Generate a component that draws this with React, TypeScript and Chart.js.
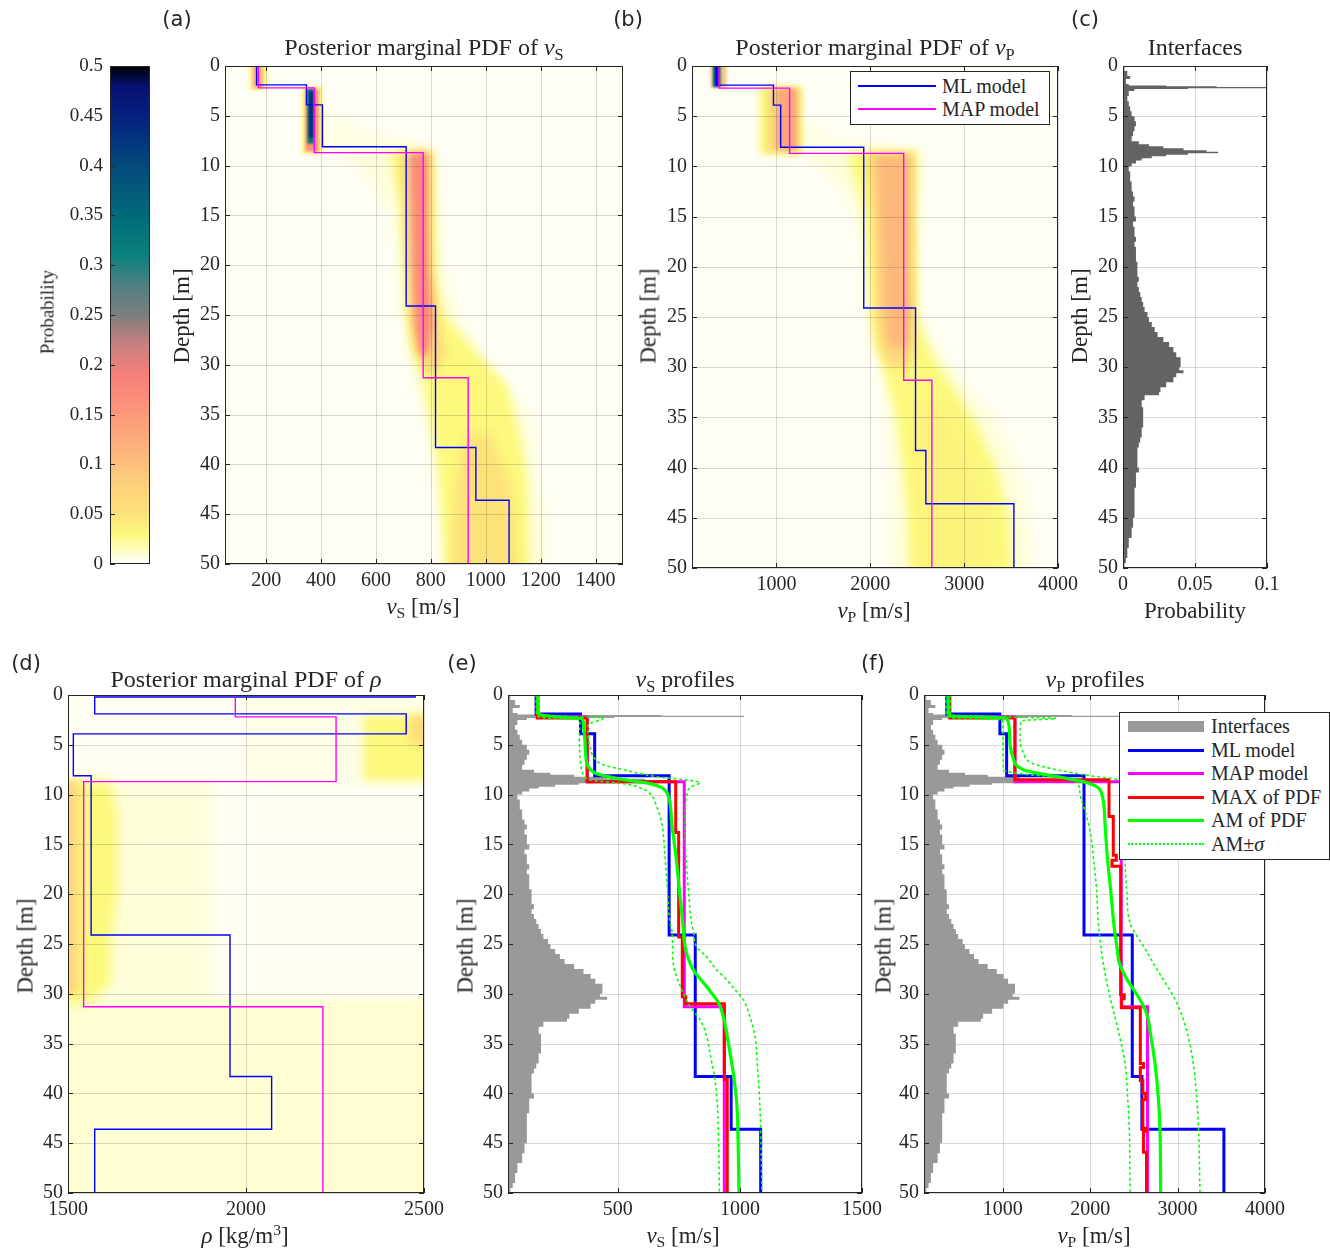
import React, { useEffect, useRef } from 'react';
import { Chart, registerables } from 'chart.js';

// ---------- plugin that blurs heat-map patches (registered before filler so it wraps the fill) ----------
const heatBlur = {
  id: 'heatBlur',
  beforeDatasetDraw(chart: any, args: any) {
    const ds = chart.data.datasets[args.index];
    if (ds && ds.blur) { chart.ctx.save(); chart.ctx.filter = `blur(${ds.blur}px)`; }
  },
  afterDatasetDraw(chart: any, args: any) {
    const ds = chart.data.datasets[args.index];
    if (ds && ds.blur) chart.ctx.restore();
  },
};
Chart.register(heatBlur as any);
Chart.register(...registerables);

// ---------- colormap ----------
const cmapStops = [0, 0.01, 0.03, 0.05, 0.08, 0.1, 0.13, 0.16, 0.19, 0.22, 0.25, 0.28, 0.31, 0.35, 0.4, 0.45, 0.48, 0.5];
const cmapColors = ['#ffffff', '#fefed2', '#fcf97c', '#fde27a', '#fdd07b', '#fcc07c', '#fca87c', '#fc927b', '#f77f79', '#c98080', '#7e7e7e', '#4f8080', '#0a807c', '#006a79', '#034a7a', '#05217f', '#061070', '#000000'];
const cbTicks = [0, 0.05, 0.1, 0.15, 0.2, 0.25, 0.3, 0.35, 0.4, 0.45, 0.5];

// ---------- axis ticks ----------
const depthTicks = [0, 5, 10, 15, 20, 25, 30, 35, 40, 45, 50];
const vsTicksA = [200, 400, 600, 800, 1000, 1200, 1400];
const vpTicks = [1000, 2000, 3000, 4000];
const probTicks = [0, 0.05, 0.1];
const rhoTicks = [1500, 2000, 2500];
const vsTicksE = [500, 1000, 1500];

// ---------- layered models (layer tops in m) ----------
const mlTops = [0, 0.2, 1.9, 3.9, 8.1, 24.1, 38.3, 43.6];
const mlVs = [165, 165, 347, 405, 710, 817, 964, 1085];
const mlVp = [360, 360, 968, 1045, 1930, 2482, 2592, 3530];
const mlRho = [2475, 1575, 2450, 1515, 1565, 1955, 2072, 1575];

const mapTops = [0, 2.2, 8.7, 31.3];
const mapVs = [172, 375, 772, 936];
const mapVp = [388, 1140, 2356, 2656];
const mapRho = [1970, 2253, 1544, 2216];

const maxVsTops = [0, 2.3, 8.7, 13.8, 24.3, 30.3, 31.0, 38.6];
const maxVs = [170, 374, 737, 749, 764, 778, 936, 948];
const maxVpTops = [0, 2.3, 8.5, 12.2, 16.1, 16.6, 17.2, 30.1, 30.5, 31.4, 37.0, 37.4, 38.7, 40.0, 40.6, 43.5, 43.8, 45.9];
const maxVp = [395, 1140, 2216, 2265, 2300, 2250, 2349, 2390, 2360, 2574, 2610, 2574, 2603, 2635, 2603, 2640, 2610, 2645];

// ---------- arithmetic mean and +/- sigma ----------
const amVsDepth = [0, 1.7, 2.0, 2.2, 2.35, 2.9, 4.5, 6.2, 7.2, 7.9, 8.3, 8.5, 8.9, 9.3, 9.9, 12.9, 16.2, 19.6, 22.9, 25.6, 27.6, 29.3, 30.9, 32.3, 35, 38, 41, 45.4, 50];
const amVs = [172, 173, 181, 260, 352, 359, 365, 369, 379, 413, 481, 522, 632, 680, 703, 721, 738, 752, 766, 778, 809, 864, 912, 932, 953, 973, 987, 993, 996];
const amVsMinusDepth = [0, 2.0, 2.3, 2.5, 4.5, 6.2, 7.5, 8.2, 8.6, 8.9, 9.4, 9.9, 11.2, 12.9, 16.2, 19.6, 22.9, 23.6, 27.0, 28.3, 29.6, 31.3, 32.6, 34.3, 36.3, 38.7, 41, 45.3, 50];
const amVsMinus = [165, 166, 200, 345, 342, 345, 352, 365, 400, 522, 600, 632, 659, 680, 693, 703, 714, 721, 727, 741, 762, 796, 837, 864, 880, 898, 907, 913, 916];
const amVsPlusDepth = [0, 2.0, 2.15, 2.3, 3.0, 4.5, 5.2, 6.2, 7.0, 7.5, 8.2, 8.5, 8.8, 9.2, 10.2, 12.9, 16.2, 19.6, 22.9, 23.6, 25.3, 26.3, 27.6, 28.6, 29.8, 30.6, 32.3, 34.3, 37, 40.3, 43.7, 50];
const amVsPlus = [178, 180, 300, 440, 378, 380, 386, 400, 440, 522, 659, 768, 837, 800, 782, 775, 779, 789, 802, 809, 823, 864, 905, 946, 987, 1014, 1041, 1062, 1071, 1080, 1085, 1090];

const amVpDepth = [0, 1.8, 2.1, 2.3, 4.1, 6.2, 7.5, 8.2, 8.7, 9.2, 9.9, 12.9, 16.2, 19.6, 22.9, 25.6, 26.9, 28.6, 30.3, 32, 33.7, 37, 40.4, 43.7, 50];
const amVp = [375, 378, 400, 1046, 1080, 1115, 1236, 1618, 1920, 2075, 2132, 2170, 2196, 2235, 2270, 2311, 2334, 2425, 2551, 2647, 2685, 2742, 2780, 2799, 2807];
const amVpMinusDepth = [0, 2.0, 2.3, 2.5, 3, 7.5, 8.0, 8.4, 9.9, 11.6, 13.6, 16.2, 19.6, 22.9, 26.9, 30.3, 33.7, 37, 40.4, 43.7, 50];
const amVpMinus = [350, 352, 420, 1000, 1003, 1007, 1300, 1800, 1884, 1941, 1998, 2036, 2074, 2094, 2150, 2227, 2322, 2399, 2429, 2448, 2456];
const amVpPlusDepth = [0, 2.0, 2.2, 2.35, 2.6, 4.1, 5.8, 6.9, 7.5, 8.1, 8.5, 9.5, 16.2, 19.6, 22.9, 23.6, 25.2, 27.5, 30.9, 33.7, 37, 40.4, 43.7, 50];
const amVpPlus = [400, 405, 1000, 1610, 1210, 1198, 1236, 1350, 1618, 2000, 2304, 2380, 2399, 2418, 2456, 2494, 2608, 2761, 2990, 3104, 3180, 3218, 3241, 3256];

// ---------- interface probability histogram (bin tops, probability) ----------
const ifaceTop = [0, 0.5, 1.0, 1.3, 1.8, 1.95, 2.02, 2.08, 2.22, 2.3, 2.5, 3.0, 3.5, 4.0, 4.5, 5.0, 5.5, 6.0, 6.5, 7.0, 7.5, 7.8, 8.0, 8.2, 8.4, 8.55, 8.7, 8.85, 9.0, 9.2, 9.4, 9.7, 10, 10.5, 11, 11.5, 12, 12.5, 13, 13.5, 14, 14.5, 15, 15.5, 16, 16.5, 17, 17.5, 18, 18.5, 19, 19.5, 20, 20.5, 21, 21.5, 22, 22.5, 23, 23.5, 24, 24.5, 25, 25.5, 26, 26.5, 27, 27.5, 28, 28.5, 29, 29.5, 30, 30.3, 30.6, 31, 31.5, 32, 32.5, 32.8, 33.3, 34, 35, 36, 37, 37.5, 38, 39, 40, 40.5, 41, 42, 43, 44, 45, 46, 47, 48, 49, 49.5];
const ifaceProb = [0.001, 0.003, 0.005, 0.002, 0.004, 0.03, 0.065, 0.1, 0.045, 0.008, 0.004, 0.003, 0.004, 0.005, 0.006, 0.008, 0.009, 0.008, 0.007, 0.006, 0.011, 0.018, 0.028, 0.042, 0.058, 0.066, 0.045, 0.03, 0.02, 0.013, 0.009, 0.006, 0.004, 0.005, 0.005, 0.006, 0.006, 0.007, 0.008, 0.007, 0.008, 0.008, 0.009, 0.007, 0.008, 0.008, 0.009, 0.008, 0.009, 0.009, 0.009, 0.010, 0.010, 0.010, 0.011, 0.010, 0.011, 0.012, 0.013, 0.014, 0.015, 0.017, 0.018, 0.020, 0.022, 0.024, 0.028, 0.032, 0.035, 0.037, 0.040, 0.040, 0.039, 0.042, 0.037, 0.035, 0.030, 0.026, 0.025, 0.015, 0.013, 0.014, 0.014, 0.013, 0.012, 0.011, 0.010, 0.010, 0.011, 0.009, 0.009, 0.008, 0.008, 0.008, 0.007, 0.006, 0.004, 0.003, 0.002, 0.001];
const ifaceMaxProb = 0.1;

// ---------- posterior PDF patches (probability level, depth knots, low/high value edges) ----------
const vsFaint = { p: 0.008, d: [7.6, 8.3, 9, 10, 12.4, 15, 20, 25, 30, 35, 40, 45, 52], lo: [470, 480, 495, 528, 601, 650, 674, 692, 722, 771, 808, 832, 846], hi: [720, 800, 822, 824, 826, 828, 846, 900, 1014, 1160, 1184, 1210, 1230] };
const vsHaze = { p: 0.006, d: [4.5, 6, 7, 8, 9], lo: [400, 402, 405, 410, 460], hi: [430, 520, 640, 760, 800] };
const vsYellow = { p: 0.03, d: [8.6, 15, 22, 25, 28, 32, 37, 41, 45, 52], lo: [650, 698, 710, 715, 728, 775, 808, 830, 840, 856], hi: [808, 814, 820, 850, 940, 1075, 1123, 1148, 1155, 1160] };
const vsGold = { p: 0.065, d: [8.6, 20, 26, 29, 31], lo: [686, 710, 722, 745, 790], hi: [801, 805, 830, 856, 810] };
const vsGoldDeep = { p: 0.05, d: [37, 42, 46, 52], lo: [930, 890, 880, 870], hi: [1020, 1090, 1110, 1120] };
const vsSalmon = { p: 0.17, d: [8.8, 15, 20, 26, 29], lo: [722, 729, 732, 740, 760], hi: [789, 789, 792, 810, 790] };
const vsTopYellow = { p: 0.03, d: [-1, 2.3], lo: [140, 140], hi: [205, 205] };
const vsTopOrange = { p: 0.12, d: [-1, 2.25], lo: [150, 150], hi: [188, 188] };
const vsL2Yellow = { p: 0.03, d: [2.15, 8.8], lo: [330, 330], hi: [405, 405] };
const vsL2Salmon = { p: 0.16, d: [2.25, 8.6], lo: [342, 342], hi: [392, 392] };
const vsL2Teal = { p: 0.32, d: [2.3, 7.8], lo: [350, 350], hi: [376, 376] };
const vsL2Navy = { p: 0.44, d: [2.5, 7.2], lo: [356, 356], hi: [371, 371] };

const vpTopOrange = { p: 0.1, d: [-1, 2.2], lo: [300, 300], hi: [465, 465] };
const vpTopTeal = { p: 0.3, d: [-1, 2.1], lo: [322, 322], hi: [405, 405] };
const vpTopNavy = { p: 0.43, d: [-1, 2.0], lo: [338, 338], hi: [388, 388] };
const vpL2Yellow = { p: 0.03, d: [2.1, 8.8], lo: [820, 820], hi: [1275, 1275] };
const vpL2Gold = { p: 0.07, d: [2.2, 8.6], lo: [900, 900], hi: [1250, 1250] };
const vpL2Salmon = { p: 0.13, d: [2.3, 8.3], lo: [1000, 1000], hi: [1215, 1215] };
const vpHaze = { p: 0.006, d: [5.5, 7, 8, 9], lo: [1250, 1255, 1260, 1350], hi: [1290, 1600, 2200, 2500] };
const vpFaint = { p: 0.008, d: [8.5, 10, 13, 17, 22, 25, 27, 30, 32, 35, 40, 45, 52], lo: [1300, 1461, 1745, 1888, 1958, 2000, 2029, 2100, 2136, 2170, 2207, 2220, 2225], hi: [2550, 2540, 2527, 2510, 2495, 2527, 2650, 2881, 3050, 3343, 3590, 3700, 3733] };
const vpYellow = { p: 0.03, d: [8.6, 15, 25, 28, 30, 35, 40, 45, 52], lo: [1750, 1950, 2000, 2050, 2136, 2278, 2349, 2400, 2420], hi: [2500, 2480, 2500, 2620, 2740, 3094, 3343, 3480, 3520] };
const vpYellowDeep = { p: 0.035, d: [34, 40, 45, 52], lo: [2450, 2480, 2500, 2510], hi: [2850, 3150, 3300, 3300] };
const vpGold = { p: 0.065, d: [8.6, 15, 25, 28, 30], lo: [1950, 2020, 2060, 2100, 2200], hi: [2470, 2450, 2460, 2480, 2400] };
const vpSalmon = { p: 0.11, d: [9, 15, 20, 25, 28], lo: [2060, 2100, 2130, 2150, 2200], hi: [2420, 2420, 2410, 2430, 2400] };

const rhoDeep = { p: 0.01, d: [30.5, 52], lo: [1400, 1400], hi: [2600, 2600] };
const rhoMidFaint = { p: 0.008, d: [8.5, 31], lo: [1400, 1400], hi: [1900, 1900] };
const rhoMidYellow = { p: 0.03, d: [8.6, 12, 20, 25, 29, 31], lo: [1400, 1400, 1400, 1400, 1400, 1400], hi: [1620, 1640, 1640, 1620, 1620, 1560] };
const rhoMidGold = { p: 0.07, d: [8.6, 30], lo: [1400, 1400], hi: [1530, 1530] };
const rhoTopFaint = { p: 0.006, d: [-1, 8.6], lo: [2000, 2000], hi: [2600, 2600] };
const rhoTopYellow = { p: 0.03, d: [2.0, 8.6], lo: [2330, 2330], hi: [2600, 2600] };
const rhoTopGold = { p: 0.06, d: [2.1, 5.0], lo: [2460, 2460], hi: [2600, 2600] };

// ---------- style constants ----------
const FONT = "'Liberation Serif', 'Times New Roman', Times, serif";
const SANS = "'DejaVu Sans', Verdana, sans-serif";
const INK = '#262626';
const GRID = 'rgba(0,0,0,0.15)';
const CW = 1330, CH = 1249, YW = 60, XH = 40;
const BLUE = '#0000ff', MAGENTA = '#ff00ff', RED = '#ff0000', GREEN = '#00ff00';

function hexToRgb(h: string) { const n = parseInt(h.slice(1), 16); return [(n >> 16) & 255, (n >> 8) & 255, n & 255]; }
function cmap(p: number) {
  if (p <= cmapStops[0]) return cmapColors[0];
  for (let i = 1; i < cmapStops.length; i++) {
    if (p <= cmapStops[i]) {
      const t = (p - cmapStops[i - 1]) / (cmapStops[i] - cmapStops[i - 1]);
      const a = hexToRgb(cmapColors[i - 1]), b = hexToRgb(cmapColors[i]);
      return `rgb(${a.map((v, k) => Math.round(v + (b[k] - v) * t)).join(',')})`;
    }
  }
  return cmapColors[cmapColors.length - 1];
}

// ---------- dataset builders ----------
const stepPts = (tops: number[], vals: number[]) => {
  const pts: any[] = [];
  for (let i = 0; i < tops.length; i++) {
    const d1 = i + 1 < tops.length ? tops[i + 1] : 50;
    pts.push({ x: vals[i], y: tops[i] }, { x: vals[i], y: d1 });
  }
  return pts;
};
const curvePts = (d: number[], v: number[]) => d.map((y, i) => ({ x: v[i], y }));
const polyPts = (d: number[], lo: number[], hi: number[]) => [
  ...d.map((y, i) => ({ x: lo[i], y })),
  ...d.map((y, i) => ({ x: hi[i], y })).reverse(),
];
const histPts = (f: (p: number) => number) => {
  const pts: any[] = [];
  for (let i = 0; i < ifaceTop.length; i++) {
    const d1 = i + 1 < ifaceTop.length ? ifaceTop[i + 1] : 50;
    pts.push({ x: f(ifaceProb[i]), y: ifaceTop[i] }, { x: f(ifaceProb[i]), y: d1 });
  }
  return pts;
};

function heatSets(list: [any, number][]) {
  return list.map(([patch, blur], i) => ({
    data: polyPts(patch.d, patch.lo, patch.hi), fill: 'shape', backgroundColor: cmap(patch.p),
    borderColor: 'transparent', borderWidth: 0, pointRadius: 0, order: 100 - i, blur,
    gridAfter: i === list.length - 1,
  }));
}
const stepSet = (tops: number[], vals: number[], color: string, w: number, order: number) => ({
  data: stepPts(tops, vals), borderColor: color, borderWidth: w, fill: false, pointRadius: 0, order,
});
const curveSet = (d: number[], v: number[], color: string, w: number, order: number, dash?: number[]) => ({
  data: curvePts(d, v), borderColor: color, borderWidth: w, fill: false, pointRadius: 0, order,
  cubicInterpolationMode: 'monotone', borderDash: dash || [], borderCapStyle: dash ? 'round' : 'butt',
});
const histSet = (xMin: number, xMax: number, color: string, frac: number) => ({
  data: histPts((p) => xMin + (p / ifaceMaxProb) * frac * (xMax - xMin)),
  fill: { value: xMin }, backgroundColor: color, borderColor: 'transparent', borderWidth: 0, pointRadius: 0, order: 50,
});

// ---------- frame / grid plugin ----------
function drawGrid(chart: any) {
  const { ctx, chartArea: a, scales } = chart;
  ctx.save();
  ctx.strokeStyle = GRID; ctx.lineWidth = 1; ctx.beginPath();
  for (const t of scales.x.ticks) {
    const px = Math.round(scales.x.getPixelForValue(t.value)) + 0.5;
    ctx.moveTo(px, a.top); ctx.lineTo(px, a.bottom);
  }
  for (const t of scales.y.ticks) {
    const py = Math.round(scales.y.getPixelForValue(t.value)) + 0.5;
    ctx.moveTo(a.left, py); ctx.lineTo(a.right, py);
  }
  ctx.stroke(); ctx.restore();
}
function framePlugin(spec: any) {
  return {
    id: 'frame',
    beforeDraw(chart: any) {
      const { ctx, chartArea: a } = chart;
      ctx.save(); ctx.fillStyle = spec.bg || '#ffffff';
      ctx.fillRect(a.left, a.top, a.right - a.left, a.bottom - a.top); ctx.restore();
    },
    beforeDatasetsDraw(chart: any) { if (spec.grid === 'under') drawGrid(chart); },
    afterDatasetDraw(chart: any, args: any) {
      const ds = chart.data.datasets[args.index];
      if (ds && ds.gridAfter && spec.grid === 'over') drawGrid(chart);
    },
    afterDraw(chart: any) {
      const { ctx, chartArea: a, scales } = chart;
      ctx.save();
      ctx.strokeStyle = INK; ctx.lineWidth = 1;
      ctx.strokeRect(a.left + 0.5, a.top + 0.5, a.right - a.left - 1, a.bottom - a.top - 1);
      ctx.beginPath();
      const L = 5;
      if (spec.showX !== false) {
        for (const t of scales.x.ticks) {
          const px = Math.round(scales.x.getPixelForValue(t.value)) + 0.5;
          ctx.moveTo(px, a.bottom); ctx.lineTo(px, a.bottom - L);
          ctx.moveTo(px, a.top); ctx.lineTo(px, a.top + L);
        }
      }
      for (const t of scales.y.ticks) {
        const py = Math.round(scales.y.getPixelForValue(t.value)) + 0.5;
        ctx.moveTo(a.left, py); ctx.lineTo(a.left + L, py);
        if (!spec.leftTicksOnly) { ctx.moveTo(a.right, py); ctx.lineTo(a.right - L, py); }
      }
      ctx.stroke(); ctx.restore();
    },
  };
}

function makeConfig(spec: any) {
  const [l, t, r, b] = spec.box;
  const showX = spec.showX !== false;
  const tickFont = { family: FONT, size: spec.tickSize || 20 };
  const xScale: any = {
    type: 'linear', position: 'bottom', display: showX, min: spec.xMin, max: spec.xMax,
    grid: { display: false, drawTicks: false }, border: { display: false },
    ticks: { color: INK, font: tickFont, padding: 5, autoSkip: false, maxRotation: 0, minRotation: 0, callback: (v: any) => String(v) },
    afterBuildTicks: (s: any) => { s.ticks = spec.xTicks.map((v: number) => ({ value: v })); },
  };
  if (showX) xScale.afterFit = (s: any) => { s.height = XH; s.paddingLeft = 0; s.paddingRight = 0; };
  return {
    type: 'line',
    data: { datasets: spec.datasets },
    options: {
      responsive: false, animation: false, indexAxis: 'y', events: [],
      layout: { padding: { left: l - YW, top: t, right: CW - r, bottom: CH - b - (showX ? XH : 0) } },
      plugins: { legend: { display: false }, title: { display: false }, tooltip: { enabled: false } },
      elements: { point: { radius: 0, hitRadius: 0 }, line: { tension: 0 } },
      scales: {
        x: xScale,
        y: {
          type: 'linear', position: 'left', min: spec.yMin, max: spec.yMax, reverse: !!spec.yReverse,
          grid: { display: false, drawTicks: false }, border: { display: false },
          ticks: { color: INK, font: tickFont, padding: spec.yPad || 5, autoSkip: false, callback: (v: any) => String(v) },
          afterBuildTicks: (s: any) => { s.ticks = spec.yTicks.map((v: number) => ({ value: v })); },
          afterFit: (s: any) => { s.width = YW; s.paddingTop = 0; s.paddingBottom = 0; },
        },
      },
    },
    plugins: [framePlugin(spec)],
  };
}

// ---------- panel specs ----------
const HEAT_BG = '#fffef4';
const depthAxis = { yMin: 0, yMax: 50, yReverse: true, yTicks: depthTicks };

const specColorbar = () => ({
  box: [110, 66, 150, 564], showX: false, xMin: 0, xMax: 1, xTicks: [], yMin: 0, yMax: 0.5, yTicks: cbTicks,
  tickSize: 19, yPad: 7, grid: 'none', leftTicksOnly: true,
  datasets: [{
    data: [{ x: -1, y: 0 }, { x: 2, y: 0 }, { x: 2, y: 0.5 }, { x: -1, y: 0.5 }], fill: 'shape', borderColor: 'transparent', borderWidth: 0, pointRadius: 0,
    backgroundColor: (c: any) => {
      const ch = c.chart; const ys = ch.scales && ch.scales.y;
      if (!ch.chartArea || !ys) return '#ffff80';
      const g = ch.ctx.createLinearGradient(0, ys.getPixelForValue(0), 0, ys.getPixelForValue(0.5));
      cmapStops.forEach((s, i) => g.addColorStop(s / 0.5, cmapColors[i]));
      return g;
    },
  }],
});

const specA = () => ({
  box: [225, 66, 623, 564], xMin: 50, xMax: 1500, xTicks: vsTicksA, ...depthAxis, bg: HEAT_BG, grid: 'over',
  datasets: [
    ...heatSets([[vsHaze, 4], [vsFaint, 5], [vsYellow, 5], [vsGold, 4], [vsGoldDeep, 5], [vsSalmon, 3], [vsTopYellow, 2], [vsTopOrange, 1.5], [vsL2Yellow, 2], [vsL2Salmon, 1.5], [vsL2Teal, 1], [vsL2Navy, 1]]),
    stepSet(mlTops, mlVs, BLUE, 1.4, 5),
    stepSet(mapTops, mapVs, MAGENTA, 1.4, 4),
  ],
});

const specB = () => ({
  box: [692, 66, 1058, 568], xMin: 100, xMax: 4000, xTicks: vpTicks, ...depthAxis, bg: HEAT_BG, grid: 'over',
  datasets: [
    ...heatSets([[vpHaze, 4], [vpFaint, 5], [vpYellow, 5], [vpYellowDeep, 5], [vpGold, 4], [vpSalmon, 4], [vpL2Yellow, 3], [vpL2Gold, 3], [vpL2Salmon, 2], [vpTopOrange, 1.5], [vpTopTeal, 1], [vpTopNavy, 1]]),
    stepSet(mlTops, mlVp, BLUE, 1.4, 5),
    stepSet(mapTops, mapVp, MAGENTA, 1.4, 4),
  ],
});

const specC = () => ({
  box: [1123, 66, 1267, 568], xMin: 0, xMax: 0.1, xTicks: probTicks, ...depthAxis, grid: 'under',
  datasets: [histSet(0, 0.1, '#636363', 1)],
});

const specD = () => ({
  box: [68, 695, 424, 1193], xMin: 1500, xMax: 2500, xTicks: rhoTicks, ...depthAxis, bg: '#fffff4', grid: 'over',
  datasets: [
    ...heatSets([[rhoDeep, 3], [rhoMidFaint, 6], [rhoTopFaint, 6], [rhoMidYellow, 6], [rhoMidGold, 4], [rhoTopYellow, 5], [rhoTopGold, 5]]),
    stepSet(mlTops, mlRho, BLUE, 1.4, 5),
    stepSet(mapTops, mapRho, MAGENTA, 1.4, 4),
  ],
});

const specE = () => ({
  box: [508, 695, 862, 1193], xMin: 50, xMax: 1500, xTicks: vsTicksE, ...depthAxis, grid: 'under',
  datasets: [
    histSet(50, 1500, '#999999', 2 / 3),
    stepSet(mlTops, mlVs, BLUE, 3, 5),
    stepSet(mapTops, mapVs, MAGENTA, 3, 4),
    stepSet(maxVsTops, maxVs, RED, 3, 3),
    curveSet(amVsDepth, amVs, GREEN, 3.2, 2),
    curveSet(amVsMinusDepth, amVsMinus, GREEN, 1.6, 1, [1.6, 4]),
    curveSet(amVsPlusDepth, amVsPlus, GREEN, 1.6, 1, [1.6, 4]),
  ],
});

const specF = () => ({
  box: [924, 695, 1265, 1193], xMin: 100, xMax: 4000, xTicks: vpTicks, ...depthAxis, grid: 'under',
  datasets: [
    histSet(100, 4000, '#999999', 2 / 3),
    stepSet(mlTops, mlVp, BLUE, 3, 5),
    stepSet(mapTops, mapVp, MAGENTA, 3, 4),
    stepSet(maxVpTops, maxVp, RED, 3, 3),
    curveSet(amVpDepth, amVp, GREEN, 3.2, 2),
    curveSet(amVpMinusDepth, amVpMinus, GREEN, 1.6, 1, [1.6, 4]),
    curveSet(amVpPlusDepth, amVpPlus, GREEN, 1.6, 1, [1.6, 4]),
  ],
});

// ---------- components ----------
function ChartCanvas({ spec }: { spec: () => any }) {
  const ref = useRef<HTMLCanvasElement>(null);
  useEffect(() => {
    const chart = new Chart(ref.current as HTMLCanvasElement, makeConfig(spec()) as any);
    return () => chart.destroy();
  }, []);
  return <canvas ref={ref} width={CW} height={CH} style={{ position: 'absolute', left: 0, top: 0, width: CW, height: CH }} />;
}

function Txt({ x, y, size = 23, rot = false, family = FONT, children }: any) {
  return (
    <div style={{
      position: 'absolute', left: x, top: y, transform: `translate(-50%, -50%)${rot ? ' rotate(-90deg)' : ''}`,
      font: `${size}px ${family}`, color: INK, whiteSpace: 'nowrap', lineHeight: 1,
    }}>{children}</div>
  );
}
const Sub = ({ children }: any) => <sub style={{ fontSize: '0.68em', verticalAlign: '-0.3em', lineHeight: 0 }}>{children}</sub>;
const Vs = () => <span><i>v</i><Sub>S</Sub></span>;
const Vp = () => <span><i>v</i><Sub>P</Sub></span>;

function LegendRow({ y, x0, x1, tx, kind, color, label }: any) {
  let line: any;
  if (kind === 'bar') line = { top: y - 5.5, height: 11, background: color };
  else if (kind === 'dot') line = { top: y - 1, height: 0, borderTop: `2px dotted ${color}` };
  else line = { top: y - kind / 2, height: kind, background: color };
  return (
    <>
      <div style={{ position: 'absolute', left: x0, width: x1 - x0, ...line }} />
      <div style={{ position: 'absolute', left: tx, top: y, transform: 'translateY(-50%)', font: `20px ${FONT}`, color: INK, whiteSpace: 'nowrap', lineHeight: 1 }}>{label}</div>
    </>
  );
}

export default function App() {
  return (
    <div style={{ position: 'absolute', left: 0, top: 0, width: CW, height: CH, background: '#ffffff', overflow: 'hidden' }}>
      <ChartCanvas spec={specColorbar} />
      <ChartCanvas spec={specA} />
      <ChartCanvas spec={specB} />
      <ChartCanvas spec={specC} />
      <ChartCanvas spec={specD} />
      <ChartCanvas spec={specE} />
      <ChartCanvas spec={specF} />

      {/* panel letters */}
      <Txt x={177} y={19} size={21} family={SANS}>(a)</Txt>
      <Txt x={628} y={19} size={21} family={SANS}>(b)</Txt>
      <Txt x={1085} y={19} size={21} family={SANS}>(c)</Txt>
      <Txt x={26} y={663} size={21} family={SANS}>(d)</Txt>
      <Txt x={462} y={663} size={21} family={SANS}>(e)</Txt>
      <Txt x={873} y={663} size={21} family={SANS}>(f)</Txt>

      {/* titles */}
      <Txt x={424} y={47} size={24}>Posterior marginal PDF of <Vs /></Txt>
      <Txt x={875} y={47} size={24}>Posterior marginal PDF of <Vp /></Txt>
      <Txt x={1195} y={47} size={24}>Interfaces</Txt>
      <Txt x={246} y={679} size={24}>Posterior marginal PDF of <i>ρ</i></Txt>
      <Txt x={685} y={679} size={24}><Vs /> profiles</Txt>
      <Txt x={1095} y={679} size={24}><Vp /> profiles</Txt>

      {/* x labels */}
      <Txt x={423} y={606}><Vs /> [m/s]</Txt>
      <Txt x={874} y={610}><Vp /> [m/s]</Txt>
      <Txt x={1195} y={610}>Probability</Txt>
      <Txt x={245} y={1235}><i>ρ</i> [kg/m<sup style={{ fontSize: '0.68em', verticalAlign: '0.45em', lineHeight: 0 }}>3</sup>]</Txt>
      <Txt x={683} y={1235}><Vs /> [m/s]</Txt>
      <Txt x={1094} y={1235}><Vp /> [m/s]</Txt>

      {/* y labels */}
      <Txt x={47} y={312} size={19} rot>Probability</Txt>
      <Txt x={181} y={316} rot>Depth [m]</Txt>
      <Txt x={648} y={316} rot>Depth [m]</Txt>
      <Txt x={1079} y={316} rot>Depth [m]</Txt>
      <Txt x={25} y={946} rot>Depth [m]</Txt>
      <Txt x={465} y={946} rot>Depth [m]</Txt>
      <Txt x={883} y={946} rot>Depth [m]</Txt>

      {/* legend (b) */}
      <div style={{ position: 'absolute', left: 850, top: 71, width: 198, height: 52, border: `1px solid ${INK}`, background: '#fff' }} />
      <LegendRow y={86} x0={858} x1={936} tx={942} kind={1.4} color={BLUE} label="ML model" />
      <LegendRow y={109} x0={858} x1={936} tx={942} kind={1.4} color={MAGENTA} label="MAP model" />

      {/* legend (f) */}
      <div style={{ position: 'absolute', left: 1119, top: 712, width: 209, height: 146, border: `1px solid ${INK}`, background: '#fff' }} />
      <LegendRow y={726} x0={1128} x1={1204} tx={1211} kind="bar" color="#999999" label="Interfaces" />
      <LegendRow y={750} x0={1128} x1={1204} tx={1211} kind={3} color={BLUE} label="ML model" />
      <LegendRow y={773} x0={1128} x1={1204} tx={1211} kind={3} color={MAGENTA} label="MAP model" />
      <LegendRow y={797} x0={1128} x1={1204} tx={1211} kind={3} color={RED} label="MAX of PDF" />
      <LegendRow y={820} x0={1128} x1={1204} tx={1211} kind={3} color={GREEN} label="AM of PDF" />
      <LegendRow y={844} x0={1128} x1={1204} tx={1211} kind="dot" color={GREEN} label={<span>AM±<i>σ</i></span>} />
    </div>
  );
}
